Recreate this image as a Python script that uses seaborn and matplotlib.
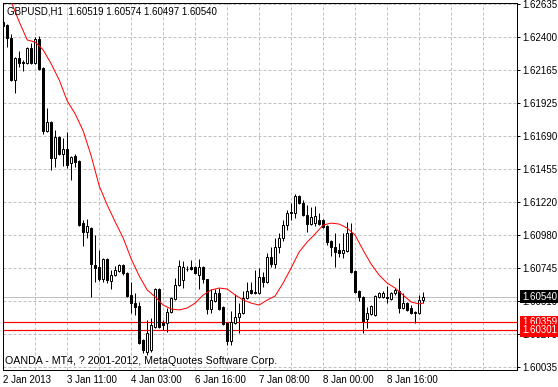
import numpy as np
import pandas as pd
import matplotlib
matplotlib.use("Agg")
import matplotlib.pyplot as plt
import seaborn as sns

## GBPUSD H1 bars (oldest first)
opens = [1.62507, 1.62485, 1.62392, 1.62091, 1.62249, 1.62220, 1.62213, 1.62320, 1.62213, 1.62385,
         1.62177, 1.61726, 1.61790, 1.61533, 1.61683, 1.61561, 1.61597, 1.61497, 1.61547, 1.61511,
         1.61067, 1.61003, 1.61032, 1.60767, 1.60752, 1.60666, 1.60810, 1.60652, 1.60695, 1.60724,
         1.60767, 1.60709, 1.60552, 1.60494, 1.60473, 1.60230, 1.60144, 1.60158, 1.60323, 1.60595,
         1.60351, 1.60351, 1.60430, 1.60523, 1.60623, 1.60659, 1.60736, 1.60752, 1.60752, 1.60695,
         1.60752, 1.60666, 1.60452, 1.60509, 1.60566, 1.60466, 1.60351, 1.60222, 1.60351, 1.60394,
         1.60423, 1.60530, 1.60588, 1.60566, 1.60566, 1.60681, 1.60645, 1.60824, 1.60774, 1.60895,
         1.60960, 1.61053, 1.61139, 1.61139, 1.61261, 1.61210, 1.61125, 1.61060, 1.61067, 1.61089,
         1.61089, 1.61046, 1.60938, 1.60895, 1.60874, 1.60852, 1.60867, 1.60996, 1.60724, 1.60580,
         1.60538, 1.60380, 1.60416, 1.60409, 1.60538, 1.60538, 1.60538, 1.60523, 1.60566, 1.60580,
         1.60459, 1.60494, 1.60459, 1.60430, 1.60423, 1.60519]
highs = [1.62521, 1.62492, 1.62421, 1.62256, 1.62299, 1.62234, 1.62327, 1.62356, 1.62399, 1.62406,
         1.62184, 1.61891, 1.61798, 1.61733, 1.61690, 1.61676, 1.61719, 1.61547, 1.61561, 1.61519,
         1.61089, 1.61096, 1.61039, 1.60981, 1.60874, 1.60817, 1.60817, 1.60731, 1.60759, 1.60774,
         1.60774, 1.60717, 1.60645, 1.60566, 1.60502, 1.60237, 1.60373, 1.60387, 1.60602, 1.60602,
         1.60373, 1.60459, 1.60538, 1.60674, 1.60802, 1.60795, 1.60759, 1.60802, 1.60759, 1.60810,
         1.60759, 1.60666, 1.60595, 1.60595, 1.60602, 1.60473, 1.60358, 1.60437, 1.60559, 1.60494,
         1.60580, 1.60645, 1.60645, 1.60731, 1.60745, 1.60717, 1.60852, 1.60895, 1.60960, 1.60996,
         1.61089, 1.61160, 1.61210, 1.61275, 1.61268, 1.61232, 1.61196, 1.61182, 1.61189, 1.61139,
         1.61096, 1.61053, 1.60946, 1.60996, 1.60924, 1.60996, 1.61075, 1.61067, 1.60731, 1.60588,
         1.60545, 1.60466, 1.60480, 1.60552, 1.60573, 1.60580, 1.60616, 1.60573, 1.60602, 1.60674,
         1.60566, 1.60502, 1.60480, 1.60437, 1.60552, 1.60574]
lows = [1.62464, 1.62328, 1.62084, 1.61998, 1.62184, 1.62156, 1.62206, 1.62206, 1.62206, 1.62163,
        1.61705, 1.61719, 1.61447, 1.61468, 1.61554, 1.61475, 1.61461, 1.61375, 1.61468, 1.61046,
        1.60903, 1.60960, 1.60538, 1.60645, 1.60652, 1.60645, 1.60638, 1.60595, 1.60688, 1.60717,
        1.60695, 1.60538, 1.60423, 1.60409, 1.60201, 1.60137, 1.60122, 1.60144, 1.60316, 1.60316,
        1.60301, 1.60287, 1.60423, 1.60516, 1.60616, 1.60602, 1.60724, 1.60731, 1.60702, 1.60595,
        1.60638, 1.60416, 1.60423, 1.60502, 1.60445, 1.60337, 1.60194, 1.60194, 1.60344, 1.60280,
        1.60416, 1.60523, 1.60559, 1.60559, 1.60559, 1.60609, 1.60638, 1.60752, 1.60745, 1.60852,
        1.60938, 1.61017, 1.61089, 1.61103, 1.61203, 1.61117, 1.61003, 1.61053, 1.61046, 1.61053,
        1.61032, 1.60910, 1.60831, 1.60752, 1.60824, 1.60817, 1.60860, 1.60709, 1.60566, 1.60509,
        1.60280, 1.60316, 1.60409, 1.60401, 1.60530, 1.60530, 1.60494, 1.60516, 1.60552, 1.60423,
        1.60452, 1.60437, 1.60416, 1.60351, 1.60416, 1.60497]
closes = [1.62478, 1.62392, 1.62091, 1.62249, 1.62213, 1.62213, 1.62320, 1.62213, 1.62385, 1.62170,
          1.61726, 1.61790, 1.61533, 1.61683, 1.61561, 1.61597, 1.61483, 1.61540, 1.61504, 1.61053,
          1.61003, 1.61046, 1.60774, 1.60745, 1.60666, 1.60810, 1.60659, 1.60695, 1.60731, 1.60767,
          1.60709, 1.60545, 1.60494, 1.60466, 1.60208, 1.60158, 1.60280, 1.60337, 1.60595, 1.60323,
          1.60337, 1.60430, 1.60530, 1.60623, 1.60759, 1.60752, 1.60740, 1.60738, 1.60709, 1.60752,
          1.60666, 1.60452, 1.60516, 1.60566, 1.60452, 1.60344, 1.60222, 1.60358, 1.60394, 1.60423,
          1.60530, 1.60580, 1.60566, 1.60573, 1.60681, 1.60645, 1.60824, 1.60774, 1.60895, 1.60960,
          1.61053, 1.61139, 1.61146, 1.61261, 1.61210, 1.61125, 1.61060, 1.61110, 1.61117, 1.61060,
          1.61039, 1.60931, 1.60895, 1.60860, 1.60852, 1.60874, 1.60996, 1.60717, 1.60573, 1.60538,
          1.60366, 1.60423, 1.60473, 1.60545, 1.60566, 1.60566, 1.60530, 1.60566, 1.60588, 1.60459,
          1.60494, 1.60445, 1.60423, 1.60423, 1.60516, 1.60540]

## moving average (red line), read every second bar
ma_bars = [2, 4, 6, 8, 10, 12, 14, 16, 18, 20, 22, 24, 26, 28, 30, 32, 34, 36, 38, 40,
           42, 44, 46, 48, 50, 52, 54, 56, 58, 60, 62, 64, 66, 68, 70, 72, 74, 76, 78, 80,
           82, 84, 86, 88, 90, 92, 94, 96, 98, 100, 102, 104, 105]
ma_vals = [1.62650, 1.62507, 1.62378, 1.62363, 1.62306, 1.62206, 1.62091, 1.61941, 1.61848, 1.61726,
           1.61547, 1.61332, 1.61196, 1.61075, 1.60960, 1.60810, 1.60688, 1.60588, 1.60538, 1.60480,
           1.60452, 1.60445, 1.60459, 1.60494, 1.60552, 1.60588, 1.60602, 1.60595, 1.60552, 1.60516,
           1.60494, 1.60480, 1.60516, 1.60545, 1.60638, 1.60745, 1.60860, 1.60931, 1.60989, 1.61053,
           1.61067, 1.61060, 1.61032, 1.60981, 1.60874, 1.60774, 1.60695, 1.60638, 1.60602, 1.60552,
           1.60502, 1.60488, 1.60494]

## axis labels
y_ticks = [1.62635, 1.62400, 1.62165, 1.61925, 1.61690, 1.61455, 1.61220, 1.60980,
           1.60745, 1.60510, 1.60275, 1.60035]
date_bars = [0, 16, 32, 48, 64, 80, 96]
date_labels = ["2 Jan 2013", "3 Jan 11:00", "4 Jan 03:00", "6 Jan 16:00",
               "7 Jan 08:00", "8 Jan 00:00", "8 Jan 16:00"]
red_levels = [1.60359, 1.60301]
bid = 1.60540

sns.set_style("white")
plt.rcParams['font.family'] = ['Liberation Sans', 'DejaVu Sans']

bars = pd.DataFrame({'open': opens, 'high': highs, 'low': lows, 'close': closes})
bars['idx'] = np.arange(len(bars))
up = bars['close'] >= bars['open']

px = 0.72  # one pixel in points
fig = plt.figure(figsize=(5.58, 3.87), dpi=100)
ax = fig.add_axes([3/558, 17/387, 514/558, 367/387])
ax.set_xlim(-0.075, 128.5)
ax.set_ylim(1.60015, 1.62643)

## dashed grid
for yv in y_ticks:
    ax.axhline(yv, color='#c0c0c0', lw=px, ls=(0, (3, 2)), zorder=0)
for xv in range(8, 128, 8):
    ax.axvline(xv, color='#c0c0c0', lw=px, ls=(0, (3, 2)), zorder=0)

## bid line and the two red levels
ax.axhline(bid, color='#c0c0c0', lw=px, zorder=1)
for lv in red_levels:
    ax.axhline(lv, color='red', lw=px * 1.2, zorder=1)

## candles
ax.vlines(bars['idx'], bars['low'], bars['high'], color='black', lw=px, zorder=3)
body_lo = np.minimum(bars['open'], bars['close'])
body_h = (bars['close'] - bars['open']).abs()
ax.bar(bars['idx'], body_h, bottom=body_lo, width=0.5,
       color=np.where(up, 'white', 'black'), edgecolor='black', linewidth=px, zorder=4)

## moving average
sns.lineplot(x=ma_bars, y=ma_vals, color='red', lw=px, ax=ax, zorder=5)

## axes look
for s in ax.spines.values():
    s.set_color('black')
    s.set_linewidth(px)
ax.yaxis.tick_right()
ax.set_yticks(y_ticks)
ax.set_yticklabels(["%.5f" % v for v in y_ticks])
ax.set_xticks(date_bars)
ax.set_xticklabels(date_labels)
for lab in ax.get_xticklabels():
    lab.set_ha('left')
ax.tick_params(axis='both', direction='out', length=2.2, width=px, colors='black',
               labelsize=7, pad=1.5)
ax.set_xlabel("")
ax.set_ylabel("")

## price tags on the axis
ax.text(1.0095, bid, "%.5f" % bid, transform=ax.get_yaxis_transform(), color='white',
        fontsize=7, va='center', ha='left', clip_on=False, zorder=10,
        bbox=dict(boxstyle='square,pad=0.15', fc='black', ec='none'))
for lv in red_levels:
    ax.text(1.0095, lv, "%.5f" % lv, transform=ax.get_yaxis_transform(), color='white',
            fontsize=7, va='center', ha='left', clip_on=False, zorder=10,
            bbox=dict(boxstyle='square,pad=0.15', fc='red', ec='none'))

fig.text(7/558, 1 - 11/387, "GBPUSD,H1  1.60519 1.60574 1.60497 1.60540",
         fontsize=7, va='center', ha='left', color='black')
fig.text(5/558, 1 - 361/387, "OANDA - MT4, ? 2001-2012, MetaQuotes Software Corp.",
         fontsize=7.7, va='center', ha='left', color='black')

fig.savefig("out.png", dpi=100)
